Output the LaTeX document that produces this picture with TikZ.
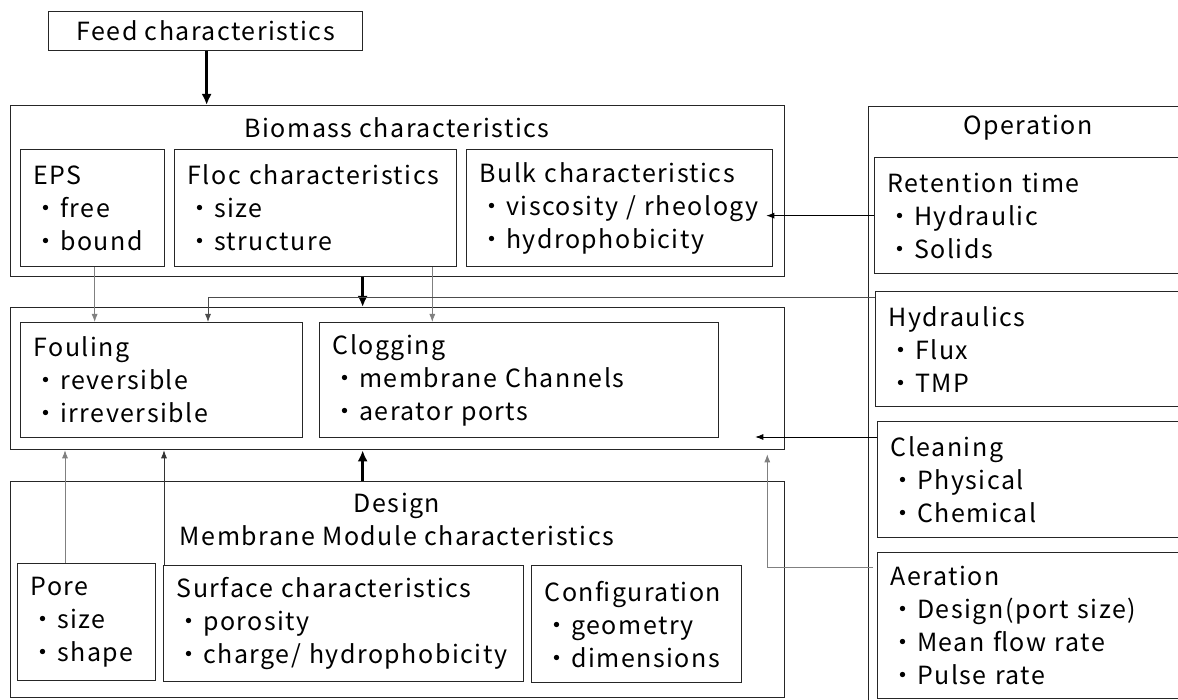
\documentclass[tikz,border=0pt]{standalone}
\usepackage{fontspec}
\setmainfont{Noto Sans CJK JP}[LetterSpace=6]
\usetikzlibrary{arrows.meta}

\tikzset{
  frame/.style={draw=black!85, line width=1.3pt, anchor=north west, inner sep=0pt},
  box/.style={frame, inner xsep=13pt, align=left, font=\fontsize{25}{33}\selectfont},
  title/.style={font=\fontsize{25}{33}\selectfont, align=center},
  bigarr/.style={line width=2.6pt, -{Latex[length=11pt,width=10pt]}},
  arr/.style={line width=0.8pt, -{Latex[length=8pt,width=6pt]}},
  greyarr/.style={arr, draw=black!50},
}

\begin{document}
\begin{tikzpicture}[x=1pt, y=-1pt]
    \useasboundingbox (0,0) rectangle (1178,700);
    \clip (0,0) rectangle (1178,700);

    % feed and biomass
    \node[frame, title, minimum width=314pt, minimum height=39pt] (feed) at (48,11) {Feed characteristics};
    \node[frame, minimum width=774pt, minimum height=171pt] (bio) at (10,105) {};
    \node[title] (biotitle) at (397,128) {Biomass characteristics};
    \node[box, text width=118pt, minimum height=117pt] (eps) at (20,149) {EPS\\・free\\・bound};
    \node[box, text width=256pt, minimum height=117pt] (floc) at (174,149) {Floc characteristics\\・size\\・structure};
    \node[box, text width=280pt, minimum height=117pt] (bulk) at (466,149) {Bulk characteristics\\・viscosity / rheology\\・hydrophobicity};

    % operation
    \node[frame, minimum width=330pt, minimum height=620pt] (op) at (868,106) {};
    \node[title] (optitle) at (1028,128) {Operation};
    \node[box, text width=284pt, minimum height=116pt] (ret) at (874,157) {Retention time\\・Hydraulic\\・Solids};
    \node[box, text width=284pt, minimum height=115pt] (hyd) at (875,291) {Hydraulics\\・Flux\\・TMP};
    \node[box, text width=284pt, minimum height=116pt] (clean) at (877,421) {Cleaning\\・Physical\\・Chemical};
    \node[box, text width=284pt, minimum height=146pt] (aer) at (877,552) {Aeration\\・Design(port size)\\・Mean flow rate\\・Pulse rate};

    % fouling and clogging
    \node[frame, minimum width=774pt, minimum height=142pt] (mid) at (10,307) {};
    \node[box, text width=256pt, minimum height=115pt] (foul) at (20,322) {Fouling\\・reversible\\・irreversible};
    \node[box, text width=373pt, minimum height=115pt] (clog) at (319,322) {Clogging\\・membrane Channels\\・aerator ports};

    % design
    \node[frame, minimum width=774pt, minimum height=216pt] (design) at (10,481) {};
    \node[title] (destitle) at (397,519) {Design\\Membrane Module characteristics};
    \node[box, text width=112pt, minimum height=117pt] (pore) at (17,563) {Pore\\・size\\・shape};
    \node[box, text width=334pt, minimum height=116pt] (surf) at (163,565) {Surface characteristics\\・porosity\\・charge/ hydrophobicity};
    \node[box, text width=184pt, minimum height=117pt] (conf) at (531,565) {Configuration\\・geometry\\・dimensions};

    % main flow
    \draw[bigarr] ([xshift=1pt]feed.south) -- ([xshift=1pt]feed.south |- bio.north);
    \draw[bigarr] ([xshift=-35pt]bio.south) -- ([xshift=-35pt]mid.north);
    \draw[bigarr] ([xshift=-35pt]design.north) -- ([xshift=-35pt]mid.south);

    % influences
    \draw[greyarr] ([xshift=2pt]eps.south) -- ([xshift=2pt]eps.south |- foul.north);
    \draw[greyarr] ([xshift=-25pt]floc.south east) -- ([xshift=-25pt]floc.south east |- clog.north);
    \draw[arr, draw=black!70] ([yshift=-6pt]hyd.north west) -| ([xshift=188pt]foul.north west);
    \draw[arr] (ret.west) -- ([xshift=-7pt]ret.west -| bulk.east);
    \draw[arr] ([yshift=-16pt]clean.north west) -- ([xshift=-30pt,yshift=-16pt]mid.east |- clean.north west);
    \draw[greyarr] ([xshift=-4pt,yshift=-15pt]aer.north west) -| ([xshift=-18pt,yshift=-4pt]mid.south east);
    \draw[greyarr] ([xshift=48pt]pore.north west) -- ([xshift=48pt]pore.north west |- mid.south);
    \draw[arr, draw=black!80] ([xshift=1pt]surf.north west) -- ([xshift=1pt]surf.north west |- mid.south);
\end{tikzpicture}
\end{document}
